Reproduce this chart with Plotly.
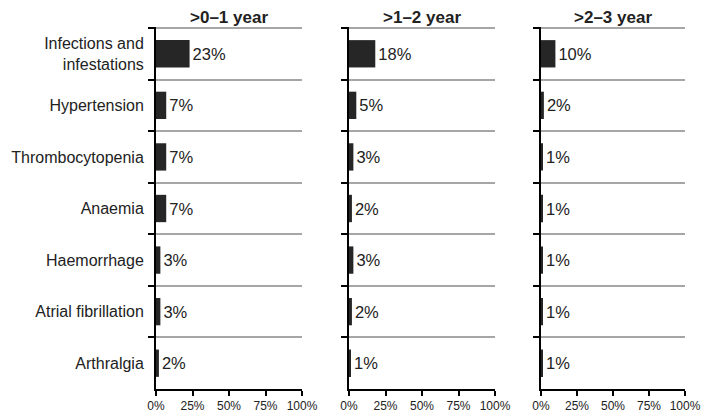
import plotly.graph_objects as go
from plotly.subplots import make_subplots

# data
categories = ["Infections and<br>infestations", "Hypertension", "Thrombocytopenia",
              "Anaemia", "Haemorrhage", "Atrial fibrillation", "Arthralgia"]
periods = [">0\u20131 year", ">1\u20132 year", ">2\u20133 year"]
year1 = [23, 7, 7, 7, 3, 3, 2]
year2 = [18, 5, 3, 2, 3, 2, 1]
year3 = [10, 2, 1, 1, 1, 1, 1]
x_ticks = [0, 25, 50, 75, 100]
x_ticktext = ["0%", "25%", "50%", "75%", "100%"]

FONT = "Liberation Sans, Arial, sans-serif"
BAR = "#262626"
GRID = "#a6a6a6"

# the page body has an 8px margin, so the figure is drawn a bit smaller
W, H = 701, 406
OFF = 8

fig = make_subplots(rows=1, cols=3, horizontal_spacing=0.05)

for i, vals in enumerate([year1, year2, year3]):
    fig.add_trace(go.Bar(
        x=vals, y=categories, orientation="h",
        marker=dict(color=BAR, line=dict(width=0)),
        width=0.53,
        text=[f"{v}%" for v in vals], textposition="outside",
        textfont=dict(size=16.5, color="#222222", family=FONT),
        cliponaxis=False, showlegend=False,
    ), row=1, col=i + 1)

# panel positions (page pixels) -> paper fractions
px = [(156, 302), (349, 495), (541, 685)]
domains = [((a - OFF) / W, (b - OFF) / W) for a, b in px]
ydom = (1 - (389 - OFF) / H, 1 - (27 - OFF) / H)

for i in range(3):
    n = "" if i == 0 else str(i + 1)
    fig.layout["xaxis" + n].update(
        domain=domains[i], range=[0, 100], tickvals=x_ticks, ticktext=x_ticktext,
        showline=True, linecolor="black", linewidth=2, ticks="outside",
        ticklen=5, tickwidth=2, tickcolor="black", showgrid=False, zeroline=False,
        tickfont=dict(size=12, family=FONT, color="#222222"), automargin=False,
    )
    fig.layout["yaxis" + n].update(
        domain=ydom, autorange="reversed", categoryorder="array",
        categoryarray=categories, tickson="boundaries",
        showline=True, linecolor="black", linewidth=2, ticks="outside",
        ticklen=6, tickwidth=2, tickcolor="black",
        showgrid=True, gridcolor=GRID, gridwidth=2,
        showticklabels=(i == 0), ticklabelstandoff=7, automargin=False,
        tickfont=dict(size=16, family=FONT, color="#222222"),
    )
    # top separator line of each panel
    fig.add_shape(type="line", xref=f"x{n} domain", yref=f"y{n}",
                  x0=0, x1=1, y0=-0.5, y1=-0.5,
                  line=dict(color=GRID, width=2), layer="below")
    fig.add_annotation(
        x=(domains[i][0] + domains[i][1]) / 2, y=1.0, xref="paper", yref="paper",
        text=f"<b>{periods[i]}</b>", showarrow=False,
        xanchor="center", yanchor="top", yshift=2,
        font=dict(size=17, family=FONT, color="#222222"),
    )

fig.update_layout(
    width=W, height=H,
    margin=dict(l=0, r=0, t=0, b=0, autoexpand=False),
    paper_bgcolor="white", plot_bgcolor="white",
    bargap=0.47,
)

fig.write_html("out.html")
